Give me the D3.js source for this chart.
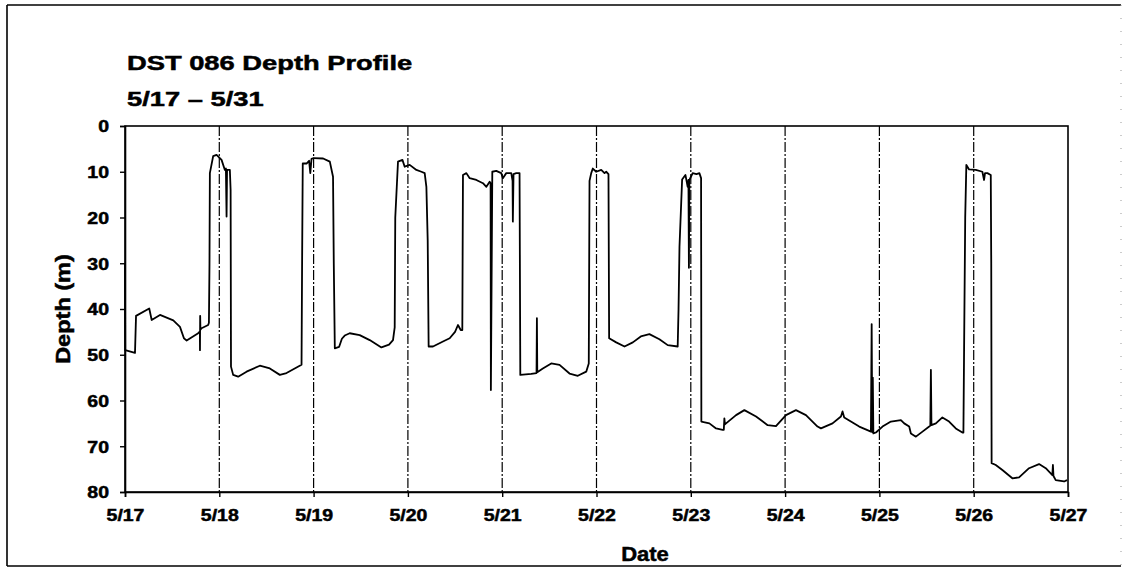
<!DOCTYPE html>
<html>
<head>
<meta charset="utf-8">
<script src="https://cdn.jsdelivr.net/npm/d3@7"></script>
<style>
  html, body { margin: 0; padding: 0; background: #fff; }
  svg { display: block; }
  text { font-family: "Liberation Sans", Arial, Helvetica, sans-serif; font-weight: bold; fill: #000; }
</style>
</head>
<body>
<svg id="chart" width="1123" height="568"></svg>
<script>
// Tag DST 086: depth record, time in days after 5/17 00:00
const dayOffset = [
  0.000, 0.002, 0.106, 0.117, 0.257, 0.283, 0.371, 0.512, 0.583, 0.625, 0.654, 0.776, 0.794, 0.795, 0.797, 0.800,
  0.812, 0.882, 0.890, 0.896, 0.900, 0.935, 0.971, 1.024, 1.059, 1.070, 1.077, 1.082, 1.112, 1.120, 1.124, 1.147,
  1.200, 1.289, 1.430, 1.536, 1.642, 1.713, 1.872, 1.878, 1.885, 1.925, 1.952, 1.965, 1.978, 2.002, 2.101, 2.172,
  2.206, 2.214, 2.225, 2.270, 2.300, 2.330, 2.383, 2.489, 2.595, 2.719, 2.800, 2.842, 2.860, 2.866, 2.895, 2.942,
  2.966, 3.019, 3.090, 3.143, 3.178, 3.196, 3.210, 3.220, 3.266, 3.372, 3.443, 3.500, 3.531, 3.560, 3.577, 3.584,
  3.620, 3.655, 3.726, 3.796, 3.832, 3.867, 3.877, 3.880, 3.895, 3.937, 3.990, 4.007, 4.043, 4.096, 4.110, 4.113,
  4.120, 4.149, 4.184, 4.192, 4.308, 4.364, 4.368, 4.372, 4.431, 4.520, 4.608, 4.714, 4.802, 4.891, 4.918, 4.926,
  4.944, 4.961, 4.997, 5.050, 5.085, 5.103, 5.127, 5.134, 5.209, 5.297, 5.385, 5.470, 5.561, 5.667, 5.755, 5.861,
  5.870, 5.880, 5.908, 5.943, 5.967, 5.975, 5.980, 5.985, 6.020, 6.060, 6.091, 6.109, 6.112, 6.197, 6.268, 6.338,
  6.350, 6.356, 6.362, 6.374, 6.480, 6.568, 6.692, 6.815, 6.903, 7.009, 7.115, 7.221, 7.344, 7.380, 7.503, 7.592,
  7.609, 7.627, 7.786, 7.910, 7.918, 7.924, 7.930, 7.936, 7.963, 8.033, 8.122, 8.228, 8.263, 8.316, 8.334, 8.387,
  8.457, 8.528, 8.540, 8.546, 8.552, 8.599, 8.668, 8.739, 8.810, 8.880, 8.891, 8.898, 8.910, 8.922, 8.951, 9.022,
  9.092, 9.110, 9.120, 9.145, 9.181, 9.186, 9.190, 9.234, 9.304, 9.410, 9.481, 9.587, 9.693, 9.764, 9.834, 9.840,
  9.846, 9.870, 9.958, 9.990
];
const depth = [
  30.0, 49.0, 49.6, 41.5, 39.9, 42.4, 41.3, 42.5, 43.9, 46.4, 46.9, 45.3, 44.9, 49.0, 41.5, 44.5,
  44.2, 43.5, 43.0, 30.0, 10.3, 6.6, 6.3, 7.4, 9.6, 9.3, 19.8, 9.6, 9.6, 14.0, 52.6, 54.4,
  54.8, 53.7, 52.4, 53.0, 54.4, 54.0, 52.2, 30.0, 8.2, 8.2, 7.6, 10.3, 7.2, 7.0, 7.1, 7.8,
  11.1, 30.0, 48.6, 48.3, 46.5, 45.8, 45.3, 45.7, 46.8, 48.4, 47.8, 46.8, 44.0, 20.0, 7.8, 7.4,
  8.9, 8.5, 9.6, 10.0, 10.3, 13.3, 25.0, 48.2, 48.2, 47.1, 46.4, 45.0, 43.5, 44.6, 44.6, 10.7,
  10.3, 11.4, 11.8, 12.5, 13.3, 12.2, 12.5, 57.7, 10.0, 9.8, 10.3, 11.4, 10.3, 10.3, 12.0, 20.9,
  10.5, 10.3, 10.3, 54.4, 54.2, 54.0, 42.0, 53.8, 53.0, 51.9, 52.2, 54.1, 54.6, 53.7, 51.9, 12.0,
  10.3, 9.3, 10.0, 9.6, 10.3, 10.0, 10.5, 46.4, 47.3, 48.2, 47.3, 46.0, 45.5, 46.6, 47.9, 48.2,
  40.0, 26.4, 11.7, 10.7, 13.3, 11.8, 31.0, 11.8, 10.3, 10.5, 10.3, 11.4, 64.6, 65.0, 66.1, 66.4,
  66.4, 63.9, 65.2, 65.0, 63.2, 62.1, 63.5, 65.4, 65.6, 63.2, 62.1, 63.2, 65.7, 66.1, 65.0, 63.5,
  62.4, 63.7, 65.7, 66.8, 43.3, 66.9, 55.0, 67.2, 67.0, 65.7, 64.6, 64.3, 65.0, 65.7, 67.2, 67.9,
  66.8, 65.7, 65.5, 53.3, 65.4, 65.0, 63.7, 64.6, 66.1, 67.0, 67.0, 49.0, 20.0, 8.5, 9.5, 9.6,
  10.0, 11.8, 10.3, 10.3, 10.7, 30.0, 73.7, 74.1, 75.2, 77.0, 76.8, 74.8, 73.9, 74.8, 76.3, 74.1,
  76.5, 77.4, 77.7, 77.4
];
const dateLabels = ["5/17", "5/18", "5/19", "5/20", "5/21", "5/22", "5/23", "5/24", "5/25", "5/26", "5/27"];
const dayTicks = [0, 1, 2, 3, 4, 5, 6, 7, 8, 9, 10];
const depthTicks = [0, 10, 20, 30, 40, 50, 60, 70, 80];
const titleLines = ["DST 086 Depth Profile", "5/17 \u2013 5/31"];

const svg = d3.select("#chart");
const plot = { left: 125, right: 1068, top: 126, bottom: 492 };

const x = d3.scaleLinear().domain([0, 10]).range([plot.left, plot.right]);
const y = d3.scaleLinear().domain([0, 80]).range([plot.top, plot.bottom]);

// stretch text horizontally to a given factor of its natural width
function widen(sel, k) {
  sel.each(function () {
    const w = this.getComputedTextLength();
    d3.select(this).attr("textLength", w * k).attr("lengthAdjust", "spacingAndGlyphs");
  });
}
// heavier strokes on the lettering
function heavy(sel, w) {
  sel.attr("stroke", "#000").attr("stroke-width", w).attr("paint-order", "stroke");
}

// outer frame
svg.append("line").attr("x1", 7).attr("y1", 5).attr("x2", 7).attr("y2", 566)
  .attr("stroke", "#000").attr("stroke-width", 1.6);
svg.append("line").attr("x1", 7).attr("y1", 5).attr("x2", 1121).attr("y2", 5)
  .attr("stroke", "#000").attr("stroke-width", 1.4);
svg.append("line").attr("x1", 7).attr("y1", 566).attr("x2", 1121).attr("y2", 566)
  .attr("stroke", "#000").attr("stroke-width", 1.4);
svg.append("line").attr("x1", 1121).attr("y1", 5).attr("x2", 1121).attr("y2", 566)
  .attr("stroke", "#999").attr("stroke-width", 1).attr("stroke-dasharray", "1,12");

// day gridlines (dash-dot)
svg.append("g").selectAll("line")
  .data(dayTicks.slice(1, -1))
  .join("line")
  .attr("x1", d => x(d)).attr("x2", d => x(d))
  .attr("y1", plot.top).attr("y2", plot.bottom)
  .attr("stroke", "#000").attr("stroke-width", 1.2)
  .attr("stroke-dasharray", "10,2,2,2");

// depth trace
const pts = dayOffset.map((d, i) => [d, depth[i]]);
svg.append("path")
  .datum(pts)
  .attr("fill", "none")
  .attr("stroke", "#000")
  .attr("stroke-width", 1.8)
  .attr("stroke-linejoin", "round")
  .attr("d", d3.line().x(d => x(d[0])).y(d => y(d[1])));

// plot frame
svg.append("rect")
  .attr("x", plot.left).attr("y", plot.top)
  .attr("width", plot.right - plot.left).attr("height", plot.bottom - plot.top)
  .attr("fill", "none").attr("stroke", "#000").attr("stroke-width", 1.6);

// axes
const yAxis = svg.append("g")
  .attr("transform", `translate(${plot.left},0)`)
  .call(d3.axisLeft(y).tickValues(depthTicks).tickSize(5).tickPadding(11));
const xAxis = svg.append("g")
  .attr("transform", `translate(0,${plot.bottom})`)
  .call(d3.axisBottom(x).tickValues(dayTicks).tickFormat(i => dateLabels[i]).tickSize(5).tickPadding(12));

[yAxis, xAxis].forEach(g => {
  g.select(".domain").attr("stroke", "#000").attr("stroke-width", 1.6);
  g.selectAll(".tick line").attr("stroke", "#000").attr("stroke-width", 1.4);
  g.selectAll(".tick text")
    .attr("font-family", "Liberation Sans, Arial, sans-serif")
    .attr("font-weight", "bold")
    .attr("font-size", 16.5)
    .attr("fill", "#000")
    .call(heavy, 0.5);
});
yAxis.selectAll(".tick text").attr("dy", "0.36em");
widen(yAxis.selectAll(".tick text"), 1.18);
widen(xAxis.selectAll(".tick text"), 1.18);

// titles
svg.append("text").attr("x", 127).attr("y", 70).attr("font-size", 21).text(titleLines[0])
  .call(widen, 1.3).call(heavy, 0.5);
svg.append("text").attr("x", 127).attr("y", 106).attr("font-size", 21).text(titleLines[1])
  .call(widen, 1.3).call(heavy, 0.5);

// axis titles
svg.append("text")
  .attr("x", 645).attr("y", 561)
  .attr("text-anchor", "middle")
  .attr("font-size", 20)
  .text("Date")
  .call(widen, 1.1).call(heavy, 0.5);
svg.append("text")
  .attr("transform", `translate(70,${(plot.top + plot.bottom) / 2}) rotate(-90)`)
  .attr("text-anchor", "middle")
  .attr("font-size", 21)
  .text("Depth (m)")
  .call(widen, 1.12).call(heavy, 0.5);
</script>
</body>
</html>
